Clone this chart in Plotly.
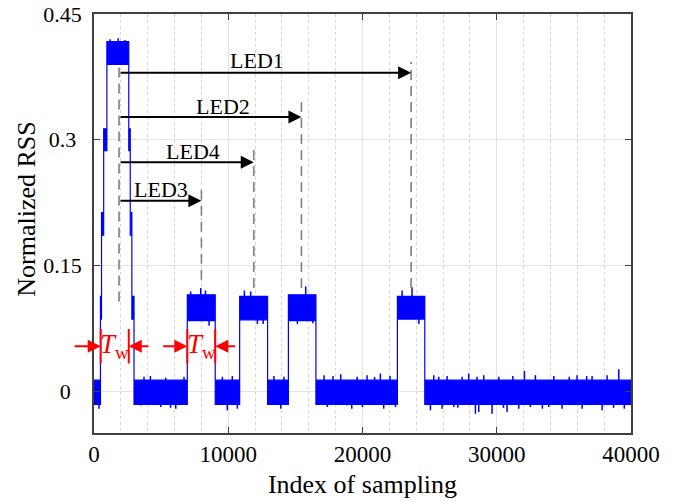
import plotly.graph_objects as go

# ---------------- data ----------------
# RSS signal as piecewise-constant segments with their dense noise band
seg_start = [0, 480, 560, 720, 960, 2590, 2700, 2820, 2980, 6950, 9030, 10850, 12930, 14480, 16530, 22600, 24640]
seg_level = [0.0, 0.1, 0.2, 0.3, 0.405, 0.3, 0.2, 0.1, 0.0, 0.1, 0.0, 0.1, 0.0, 0.1, 0.0, 0.1, 0.0]
seg_upper = [0.013, 0.113, 0.213, 0.313, 0.417, 0.313, 0.213, 0.113, 0.013, 0.115, 0.013, 0.113, 0.013, 0.115, 0.013, 0.113, 0.013]
seg_lower = [-0.016, 0.086, 0.186, 0.287, 0.390, 0.287, 0.186, 0.086, -0.016, 0.084, -0.016, 0.085, -0.016, 0.084, -0.016, 0.086, -0.016]
x_end = 40000

# isolated noise spikes that stick out of the dense band (index, extreme value)
spike_x = [370, 3480, 3725, 4200, 4970, 5340, 5700, 6090, 6705,
           7200, 7450, 7950, 8300, 8570, 9560, 9930, 10300, 10680,
           11200, 11670, 12170, 12600, 13400, 13910, 14150, 15150, 15770, 16300,
           17135, 17380, 17800, 18380, 18870, 19200, 19600, 20000, 20340, 20900, 21330, 21580, 22050, 22450,
           1200, 1800, 2300, 22950, 23190, 23690, 24200,
           25060, 25310, 25680, 25930, 26300, 26800, 27100, 27420, 27910, 28410, 28530, 28660,
           29030, 29650, 30150, 30500, 30770, 31200, 31640, 32060, 32500, 32880, 33400, 33870, 34250,
           34870, 35400, 35980, 36360, 36700, 37100, 37850, 38220, 38700, 39090, 39500]
spike_y = [-0.021, -0.017, 0.017, 0.018, -0.019, 0.016, -0.020, -0.021, 0.017,
           0.119, 0.084, 0.123, 0.120, 0.078, 0.017, -0.023, 0.018, -0.021,
           0.120, 0.119, 0.080, 0.080, 0.018, -0.021, 0.017, 0.080, 0.125, 0.081,
           0.019, -0.019, 0.018, 0.020, -0.017, -0.021, 0.017, -0.019, 0.019, 0.017, 0.021, -0.021, 0.018, -0.019,
           0.420, 0.421, 0.419, 0.120, 0.086, 0.124, 0.080,
           -0.023, 0.019, 0.017, -0.021, 0.018, -0.019, -0.020, 0.017, 0.021, -0.027, 0.017, -0.025,
           0.019, -0.027, 0.017, -0.020, -0.025, 0.018, -0.021, 0.024, -0.019, 0.019, -0.021, -0.019, 0.018,
           -0.021, 0.017, 0.019, -0.021, 0.018, 0.018, -0.023, 0.019, -0.020, 0.026, -0.021]

# LED annotations
led_names = ["LED1", "LED2", "LED4", "LED3"]
led_arrow_y = [0.380, 0.327, 0.273, 0.227]
led_center = [23620, 15450, 11900, 8000]      # centre of the LED's pulse
led_dash_top = [0.393, 0.350, 0.293, 0.241]
led_dash_bottom = [0.123, 0.123, 0.123, 0.133]
led_label_x = [12140, 9610, 7400, 4955]
led_label_y = [0.395, 0.340, 0.2865, 0.240]
arrow_start_x = 1865
start_dash = [0.107, 0.387]

# T_w window markers
tw_left = [500, 6950]
tw_right = [2590, 9030]
tw_left_tail = [-1560, 5040]
tw_right_tail = [4170, 10630]
tw_y = 0.0536
tw_bar = [0.033, 0.074]

# axes
x_ticks = [0, 10000, 20000, 30000, 40000]
x_ticklabels = ["0", "10000", "20000", "30000", "40000"]
y_ticks = [0, 0.15, 0.3, 0.45]
y_ticklabels = ["0", "0.15", "0.3", "0.45"]

FONT = "Liberation Serif"
BLUE = "#0000ff"

# ---------------- build signal band polygon ----------------
seg_end = seg_start[1:] + [x_end]
px, py = [], []
for s, e, u in zip(seg_start, seg_end, seg_upper):
    px += [s, e]
    py += [u, u]
for s, e, l in reversed(list(zip(seg_start, seg_end, seg_lower))):
    px += [e, s]
    py += [l, l]
px.append(px[0]); py.append(py[0])

fig = go.Figure()
fig.add_trace(go.Scatter(x=px, y=py, mode="lines", fill="toself",
                         fillcolor=BLUE, line=dict(color=BLUE, width=1.2),
                         hoverinfo="skip", showlegend=False))

# spikes: from the segment level to the spike's extreme value
def level_at(x):
    lv = seg_level[0]
    for s, l in zip(seg_start, seg_level):
        if x >= s:
            lv = l
    return lv
sx, sy = [], []
for x, y in zip(spike_x, spike_y):
    sx += [x, x, None]
    sy += [level_at(x), y, None]
fig.add_trace(go.Scatter(x=sx, y=sy, mode="lines", line=dict(color=BLUE, width=1.5),
                         hoverinfo="skip", showlegend=False))

shapes = []
annotations = []
dash_line = dict(color="#808080", width=1.6, dash="10px,6px")
shapes.append(dict(type="line", xref="x", yref="y", x0=arrow_start_x, x1=arrow_start_x,
                   y0=start_dash[0], y1=start_dash[1], line=dash_line))
for name, ay, cx, dt, db, lx, ly in zip(led_names, led_arrow_y, led_center, led_dash_top,
                                        led_dash_bottom, led_label_x, led_label_y):
    shapes.append(dict(type="line", xref="x", yref="y", x0=cx, x1=cx, y0=db, y1=dt, line=dash_line))
    annotations.append(dict(x=cx, y=ay, ax=arrow_start_x, ay=ay, xref="x", yref="y",
                            axref="x", ayref="y", text="", showarrow=True, arrowhead=2,
                            arrowsize=1.3, arrowwidth=2, arrowcolor="black",
                            standoff=0, startstandoff=0))
    annotations.append(dict(x=lx, y=ly, xref="x", yref="y", text=name, showarrow=False,
                            font=dict(family=FONT, size=22, color="black"),
                            xanchor="center", yanchor="middle"))

# T_w markers
red = "#ff0000"
for l, r, lt, rt in zip(tw_left, tw_right, tw_left_tail, tw_right_tail):
    for xb in (l, r):
        shapes.append(dict(type="line", xref="x", yref="y", x0=xb, x1=xb,
                           y0=tw_bar[0], y1=tw_bar[1], line=dict(color=red, width=2)))
    annotations.append(dict(x=l, y=tw_y, ax=lt, ay=tw_y, xref="x", yref="y", axref="x", ayref="y",
                            text="", showarrow=True, arrowhead=2, arrowsize=1.3, arrowwidth=2,
                            arrowcolor=red, standoff=0, startstandoff=0))
    annotations.append(dict(x=r, y=tw_y, ax=rt, ay=tw_y, xref="x", yref="y", axref="x", ayref="y",
                            text="", showarrow=True, arrowhead=2, arrowsize=1.3, arrowwidth=2,
                            arrowcolor=red, standoff=0, startstandoff=0))
    annotations.append(dict(x=(l + r) / 2, y=tw_y, xref="x", yref="y",
                            text="<i>T</i><sub>w</sub>", showarrow=False,
                            font=dict(family=FONT, size=27, color=red),
                            xanchor="center", yanchor="middle"))

# y-axis title
annotations.append(dict(x=-0.125, y=0.535, xref="paper", yref="paper", text="Normalized RSS",
                        textangle=-90, showarrow=False, font=dict(family=FONT, size=26, color="black"),
                        xanchor="center", yanchor="middle"))

# centre the y tick labels (MATLAB style) with non-breaking spaces
def em_width(s):
    return sum(0.25 if c == "." else 0.5 for c in s)
maxw = max(em_width(s) for s in y_ticklabels)
y_ticktext = [s + "\u00a0" * int(round((maxw - em_width(s)) / 2 / 0.25)) for s in y_ticklabels]

axis_col = "#404040"
fig.update_layout(
    width=687, height=502,
    margin=dict(l=94, r=56, t=14, b=69),
    paper_bgcolor="white", plot_bgcolor="white",
    font=dict(family=FONT, size=22, color="black"),
    shapes=shapes, annotations=annotations,
    xaxis=dict(range=[0, 40000], tickvals=x_ticks, ticktext=x_ticklabels, automargin=False,
               ticklabeloverflow="allow",
               showline=True, linecolor=axis_col, linewidth=1.5, mirror="ticks",
               ticks="inside", ticklen=6, tickcolor=axis_col,
               showgrid=True, gridcolor="#e3e3e3", gridwidth=1, zeroline=False,
               minor=dict(dtick=2000, showgrid=True, gridcolor="#d5d5d5", griddash="dot", ticks=""),
               title=dict(text="Index of sampling", font=dict(size=26), standoff=8),
               tickfont=dict(size=23)),
    yaxis=dict(range=[-0.05, 0.45], tickvals=y_ticks, ticktext=y_ticktext, automargin=False,
               ticklabeloverflow="allow",
               showline=True, linecolor=axis_col, linewidth=1.5, mirror="ticks",
               ticks="inside", ticklen=6, tickcolor=axis_col,
               showgrid=True, gridcolor="#e3e3e3", gridwidth=1, zeroline=False,
               ticklabelstandoff=6, tickfont=dict(size=22)),
)

fig.write_html("out.html")
